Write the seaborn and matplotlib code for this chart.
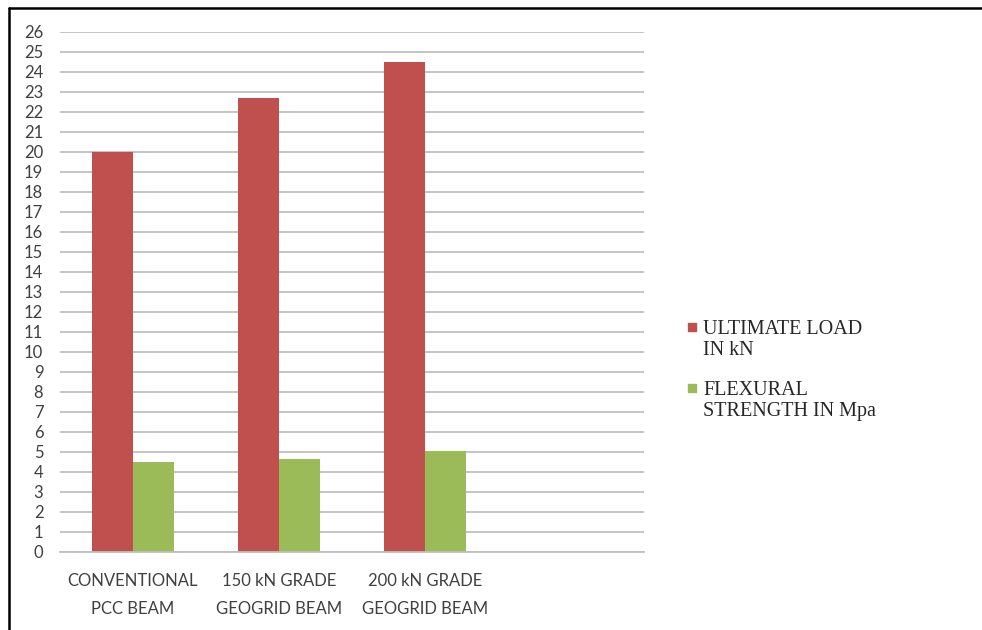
import matplotlib
matplotlib.use("Agg")
import matplotlib.pyplot as plt
import matplotlib.lines as mlines
import matplotlib.patches as mpatches
import seaborn as sns
import pandas as pd

categories = ["CONVENTIONAL\nPCC BEAM", "150 kN GRADE\nGEOGRID BEAM", "200 kN GRADE\nGEOGRID BEAM"]
slot_order = categories + [" "]
series_names = ["ULTIMATE LOAD\nIN kN", "FLEXURAL\nSTRENGTH IN Mpa"]
ultimate_load = [20.0, 22.7, 24.5]
flexural_strength = [4.5, 4.65, 5.05]
y_ticks = list(range(0, 27))
colors = ["#C0504D", "#9BBB59"]

rows = []
for c, u, f in zip(categories, ultimate_load, flexural_strength):
    rows.append({"cat": c, "series": series_names[0], "val": u})
    rows.append({"cat": c, "series": series_names[1], "val": f})
df = pd.DataFrame(rows)

sns.set_style("white")
plt.rcParams["font.family"] = ["Lato", "DejaVu Sans"]

W, H = 982, 630
fig = plt.figure(figsize=(W / 100, H / 100), dpi=100)
ax = fig.add_axes([60 / W, 1 - 552 / H, (644 - 60) / W, (552 - 32) / H])

sns.barplot(data=df, x="cat", y="val", hue="series", order=slot_order,
            hue_order=series_names, palette=colors, width=0.56,
            saturation=1, ax=ax, legend=False, linewidth=0)

ax.set_ylim(0, 26)
ax.set_yticks(y_ticks)
ax.set_yticklabels([str(t) for t in y_ticks])
ax.set_xlim(-0.5, 3.5)
ax.yaxis.grid(True, color="#BFBFBF", linewidth=1.3)
ax.set_axisbelow(True)
for s in ["top", "right", "left"]:
    ax.spines[s].set_visible(False)
ax.spines["bottom"].set_color("#BFBFBF")
ax.spines["bottom"].set_linewidth(1.3)
ax.set_xlabel("")
ax.set_ylabel("")
ax.tick_params(axis="y", length=0, pad=12, labelsize=12, labelcolor="#404040")
ax.tick_params(axis="x", length=0, pad=15, labelsize=12, labelcolor="#404040")
for lbl in ax.get_xticklabels():
    lbl.set_linespacing(1.9)

# legend: square marker aligned with the first text line
legend_y = [327, 388]
for name, col, yy in zip(series_names, colors, legend_y):
    fig.add_artist(mpatches.Rectangle((688 / W, 1 - (yy + 4) / H), 8 / W, 8 / H,
                                      transform=fig.transFigure, color=col))
    fig.text(703 / W, 1 - (yy - 7) / H, name, ha="left", va="top",
             family=["Liberation Serif"], fontsize=14.5, color="#262626",
             linespacing=1.15)

fig.add_artist(mlines.Line2D([9 / W, 1], [1 - 8 / H, 1 - 8 / H],
                             transform=fig.transFigure, color="black", linewidth=1.8))
fig.add_artist(mlines.Line2D([9 / W, 9 / W], [0, 1 - 8 / H],
                             transform=fig.transFigure, color="black", linewidth=1.8))

fig.savefig("out.png", dpi=100, facecolor="white")
